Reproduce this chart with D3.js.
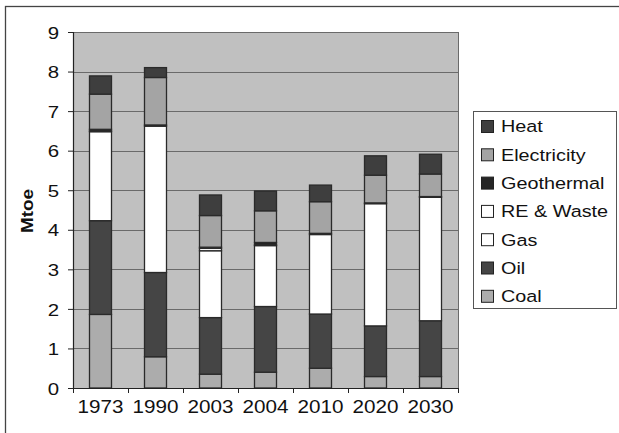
<!DOCTYPE html>
<html><head><meta charset="utf-8">
<script src="https://cdn.jsdelivr.net/npm/d3@7"></script>
<style>body{margin:0;background:#fff}svg{display:block}text{font-family:"Liberation Sans",Arial,sans-serif;fill:#111}</style>
</head><body>
<script>
const years = ["1973","1990","2003","2004","2010","2020","2030"];
const coal = [1.86, 0.79, 0.35, 0.40, 0.50, 0.29, 0.29];
const oil = [2.37, 2.13, 1.43, 1.66, 1.37, 1.28, 1.41];
const gas = [2.25, 3.70, 1.69, 1.54, 2.01, 3.09, 3.12];
const reWaste = [0.02, 0.0, 0.06, 0.02, 0.0, 0.0, 0.0];
const geothermal = [0.04, 0.03, 0.03, 0.06, 0.03, 0.02, 0.02];
const electricity = [0.89, 1.20, 0.80, 0.80, 0.80, 0.70, 0.57];
const heat = [0.46, 0.25, 0.52, 0.50, 0.42, 0.49, 0.50];
const seriesNames = ["Coal","Oil","Gas","RE & Waste","Geothermal","Electricity","Heat"];
const yTicks = [0,1,2,3,4,5,6,7,8,9];

const colors = {"Coal":"#acacac","Oil":"#454545","Gas":"#ffffff","RE & Waste":"#ffffff","Geothermal":"#262626","Electricity":"#a4a4a4","Heat":"#3e3e3e"};
const seriesData = [coal, oil, gas, reWaste, geothermal, electricity, heat];

const rows = years.map((y,i)=>{const r={year:y}; seriesNames.forEach((s,k)=>r[s]=seriesData[k][i]); return r;});
const stack = d3.stack().keys(seriesNames)(rows);

const W=619,H=433;
const svg = d3.select("body").append("svg").attr("width",W).attr("height",H);
svg.append("rect").attr("x",5.5).attr("y",6.5).attr("width",W+10).attr("height",H+10).attr("fill","#fff").attr("stroke","#444").attr("stroke-width",1.3);

const L=73,R=458,T=32,B=388;
const x = d3.scaleBand().domain(years).range([L,R]).paddingInner(0.6).paddingOuter(0.3);
const y = d3.scaleLinear().domain([0,9]).range([B,T]);

svg.append("rect").attr("x",L).attr("y",T).attr("width",R-L).attr("height",B-T).attr("fill","#c0c0c0");
svg.append("g").selectAll("line").data(yTicks.slice(1)).join("line")
  .attr("x1",L).attr("x2",R).attr("y1",d=>Math.round(y(d))+0.5).attr("y2",d=>Math.round(y(d))+0.5)
  .attr("stroke","#6a6a6a").attr("stroke-width",1);
svg.append("line").attr("x1",R+0.5).attr("x2",R+0.5).attr("y1",T).attr("y2",B).attr("stroke","#6a6a6a");

svg.append("g").selectAll("g").data(stack).join("g")
  .attr("fill",d=>colors[d.key])
  .selectAll("rect").data(d=>d.filter(p=>p[1]-p[0]>0)).join("rect")
  .attr("x",d=>x(d.data.year)).attr("width",x.bandwidth())
  .attr("y",d=>y(d[1])).attr("height",d=>y(d[0])-y(d[1]))
  .attr("stroke","#2a2a2a").attr("stroke-width",1.3);

const yAxis = svg.append("g").attr("transform",`translate(${L},0)`).call(d3.axisLeft(y).tickValues(yTicks).tickSize(5).tickPadding(9).tickFormat(d3.format("d")));
yAxis.select(".domain").attr("stroke","#222").attr("stroke-width",1.2);
yAxis.selectAll(".tick line").attr("stroke","#222");
yAxis.selectAll("text").attr("font-size",17).attr("dy","0.36em");
yAxis.selectAll("text").each(function(){
  const t=d3.select(this); const xx=+t.attr("x");
  t.attr("x",null).attr("transform",`translate(${xx},0) scale(1.2,1)`);
});

const xAxis = svg.append("g").attr("transform",`translate(0,${B})`).call(d3.axisBottom(x).tickSize(0).tickPadding(13));
xAxis.select(".domain").attr("stroke","#222").attr("stroke-width",1.2);
xAxis.selectAll("text").attr("font-size",17.5).attr("transform","scale(1.18,1)");
const bounds = years.map(yr=>x(yr)-x.step()*x.paddingInner()/2).concat([R]);
svg.append("g").selectAll("line").data(bounds).join("line")
  .attr("x1",d=>Math.round(d)+0.5).attr("x2",d=>Math.round(d)+0.5).attr("y1",B).attr("y2",B+5).attr("stroke","#222");

svg.append("text").attr("transform","translate(33,211) rotate(-90) scale(1.15,1)")
  .attr("text-anchor","middle").attr("font-weight","bold").attr("font-size",16.5).text("Mtoe");

const lg = svg.append("g");
lg.append("rect").attr("x",473.5).attr("y",111.5).attr("width",143).attr("height",197).attr("fill","#fff").attr("stroke","#555");
const legOrder = seriesNames.slice().reverse();
const items = lg.selectAll("g").data(legOrder).join("g").attr("transform",(d,i)=>`translate(0,${126.5+i*28.3})`);
items.append("rect").attr("x",481.5).attr("y",-6).attr("width",12).attr("height",12).attr("fill",d=>colors[d]).attr("stroke","#222");
items.append("text").attr("transform","translate(501,0) scale(1.2,1)").attr("dy","0.36em").attr("font-size",16.5).text(d=>d);
</script>
</body></html>
